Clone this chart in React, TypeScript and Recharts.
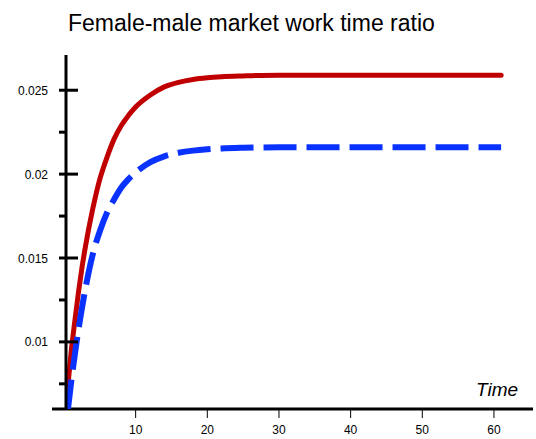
import { LineChart, Line, XAxis, YAxis, ReferenceLine } from 'recharts';

const FONT = '"Liberation Sans", Arial, Helvetica, sans-serif';

// time points
const times = [0.5, 1, 1.5, 2, 2.5, 3, 4, 5, 6, 7, 8, 9, 10, 12, 14, 16, 18, 20, 22, 25, 30, 35, 40, 45, 50, 55, 61];
// solid red curve
const redSeries = [
  0.0072, 0.0094, 0.0112, 0.0129, 0.0144, 0.0157, 0.0179, 0.0197, 0.021, 0.0221, 0.0229, 0.0235, 0.024, 0.0247,
  0.0252, 0.02547, 0.02564, 0.02574, 0.0258, 0.02585, 0.0259, 0.0259, 0.0259, 0.0259, 0.0259, 0.0259, 0.0259,
];
// dashed blue curve
const blueSeries = [
  0.0058, 0.0076, 0.0092, 0.0107, 0.012, 0.0132, 0.0152, 0.0166, 0.0177, 0.0185, 0.0192, 0.0197, 0.0201, 0.0207,
  0.02106, 0.02127, 0.0214, 0.02148, 0.02153, 0.02157, 0.0216, 0.0216, 0.0216, 0.0216, 0.0216, 0.0216, 0.0216,
];

const xTicks = [10, 20, 30, 40, 50, 60];
const yTicks = [0.0075, 0.01, 0.0125, 0.015, 0.0175, 0.02, 0.0225, 0.025];
const yLabels: Record<string, string> = { '0.01': '0.01', '0.015': '0.015', '0.02': '0.02', '0.025': '0.025' };

const X_MIN = 0.28;
const X_MAX = 65.45;
const Y_MIN = 0.006;
const Y_MAX = 0.0271;

const data = times.map((t, i) => ({ t, red: redSeries[i], blue: blueSeries[i] }));

function YTick(props: any) {
  const { x, y, payload } = props;
  const label = yLabels[String(payload.value)];
  const major = label !== undefined;
  return (
    <g>
      <line x1={x - 7} x2={major ? x + 12 : x} y1={y} y2={y} stroke="#000" strokeWidth={3} />
      {major && (
        <text x={x - 18} y={y + 4.5} textAnchor="end" fontSize={12} fill="#000" fontFamily={FONT}>
          {label}
        </text>
      )}
    </g>
  );
}

export default function App() {
  return (
    <div style={{ position: 'absolute', left: 0, top: 0, width: 536, height: 439, background: '#fff' }}>
      <div
        style={{
          position: 'absolute',
          left: 68,
          top: 12,
          fontFamily: FONT,
          fontSize: 23,
          lineHeight: '23px',
          color: '#000',
          whiteSpace: 'nowrap',
        }}
      >
        Female-male market work time ratio
      </div>
      <LineChart width={536} height={439} data={data} margin={{ top: 55, right: 3, bottom: 0, left: 0 }}>
        <XAxis
          dataKey="t"
          type="number"
          domain={[X_MIN, X_MAX]}
          allowDataOverflow
          ticks={xTicks}
          height={30}
          axisLine={false}
          tickSize={9}
          tickMargin={7}
          tickLine={{ stroke: '#000', strokeWidth: 1 }}
          tick={{ fill: '#000', fontSize: 12, fontFamily: FONT }}
        />
        <YAxis
          type="number"
          domain={[Y_MIN, Y_MAX]}
          allowDataOverflow
          ticks={yTicks}
          width={66}
          tickSize={0}
          tickMargin={0}
          tickLine={false}
          axisLine={{ stroke: '#000', strokeWidth: 3 }}
          tick={<YTick />}
          interval={0}
        />
        <ReferenceLine
          segment={[
            { x: -1.67, y: Y_MIN },
            { x: X_MAX, y: Y_MIN },
          ]}
          stroke="#000"
          strokeWidth={3}
          ifOverflow="visible"
        />
        <Line
          type="monotone"
          dataKey="red"
          stroke="#C00000"
          strokeWidth={5}
          strokeLinecap="round"
          dot={false}
          isAnimationActive={false}
        />
        <Line
          type="monotone"
          dataKey="blue"
          stroke="#0A32FF"
          strokeWidth={6}
          strokeDasharray="33 10"
          dot={false}
          isAnimationActive={false}
        />
      </LineChart>
      <div
        style={{
          position: 'absolute',
          left: 476,
          top: 380,
          fontFamily: FONT,
          fontSize: 19,
          fontStyle: 'italic',
          lineHeight: '19px',
          color: '#000',
        }}
      >
        Time
      </div>
    </div>
  );
}
